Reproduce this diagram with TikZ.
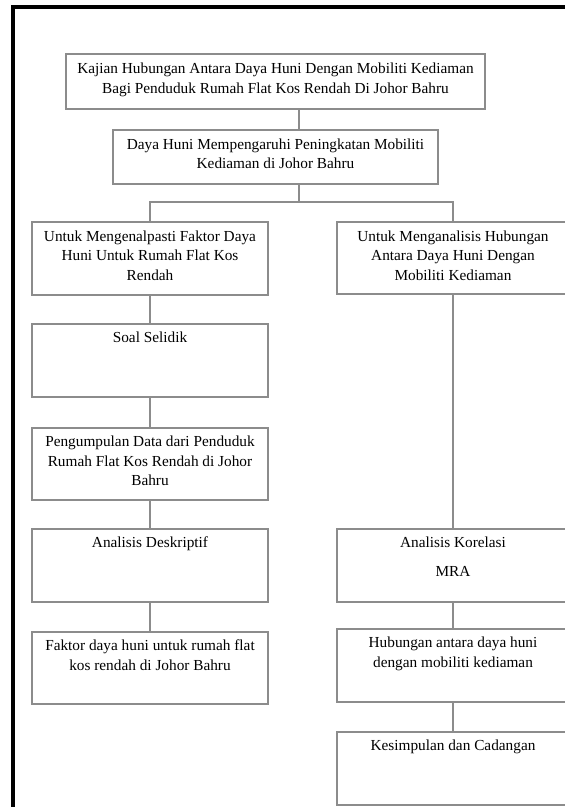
\documentclass[tikz,border=0pt]{standalone}
\usepackage{fontspec}
\setmainfont{Liberation Serif}
\usepackage{xcolor}
\usepackage{tikz}
\usetikzlibrary{calc}
\definecolor{garisabu}{RGB}{140,140,140}
\tikzset{
  kotak/.style  = {draw=garisabu, line width=1.1pt, rectangle, inner sep=0pt},
  kiri/.style   = {kotak, minimum width=236pt, minimum height=73pt},
  kanan/.style  = {kotak, minimum width=232pt, minimum height=73pt},
  teks/.style   = {anchor=north, inner sep=0pt, align=center,
                   font=\fontsize{15.3}{19.5}\selectfont},
  garis/.style  = {draw=garisabu, line width=1.1pt},
  bingkai/.style= {black, line width=3.5pt}
}

\begin{document}
\begin{tikzpicture}[x=1pt, y=-1pt]
  \useasboundingbox (0,0) rectangle (565,807);
  % bingkai luar
  \draw[bingkai] (13,812) -- (13,7) -- (570,7);
  \coordinate (tengah) at (299,0);
  \coordinate (simpang) at (299,202);
  % kotak atas
  \node[kotak, minimum width=419pt, minimum height=55pt] (b1) at (275.5,81.5) {};
  \node[teks] (t1) at ([yshift=-9.5pt]b1.north) {Kajian Hubungan Antara Daya Huni Dengan Mobiliti Kediaman\\Bagi Penduduk Rumah Flat Kos Rendah Di Johor Bahru};
  \node[kotak, minimum width=325pt, minimum height=54pt] (b2) at (275.5,157) {};
  \node[teks] (t2) at ([yshift=-9pt]b2.north) {Daya Huni Mempengaruhi Peningkatan Mobiliti\\Kediaman di Johor Bahru};
  % lajur kiri
  \node[kiri] (l1) at (150,258.5) {};
  \node[teks] (tl1) at ([yshift=-9pt]l1.north) {Untuk Mengenalpasti Faktor Daya\\Huni Untuk Rumah Flat Kos\\Rendah};
  \node[kiri] (l2) at (150,360.5) {};
  \node[teks] (tl2) at ([yshift=-8.5pt]l2.north) {Soal Selidik};
  \node[kiri, minimum height=72pt] (l3) at (150,464) {};
  \node[teks] (tl3) at ([yshift=-8.5pt]l3.north) {Pengumpulan Data dari Penduduk\\Rumah Flat Kos Rendah di Johor\\Bahru};
  \node[kiri] (l4) at (150,565.5) {};
  \node[teks] (tl4) at ([yshift=-8.5pt]l4.north) {Analisis Deskriptif};
  \node[kiri, minimum height=72pt] (l5) at (150,668) {};
  \node[teks] (tl5) at ([yshift=-8.5pt]l5.north) {Faktor daya huni untuk rumah flat\\kos rendah di Johor Bahru};
  % lajur kanan
  \node[kanan, minimum height=72pt] (r1) at (453,258) {};
  \node[teks] (tr1) at ([yshift=-9pt]r1.north) {Untuk Menganalisis Hubungan\\Antara Daya Huni Dengan\\Mobiliti Kediaman};
  \node[kanan] (r2) at (453,565.5) {};
  \node[teks] (tr2) at ([yshift=-8.5pt]r2.north) {Analisis Korelasi\\[9.5pt]MRA};
  \node[kanan] (r3) at (453,665.5) {};
  \node[teks] (tr3) at ([yshift=-8.5pt]r3.north) {Hubungan antara daya huni\\dengan mobiliti kediaman};
  \node[kanan] (r4) at (453,768.5) {};
  \node[teks] (tr4) at ([yshift=-8.5pt]r4.north) {Kesimpulan dan Cadangan};
  % garis penghubung
  \draw[garis] (b1.south -| tengah) -- (b2.north -| tengah);
  \draw[garis] (b2.south -| tengah) -- (simpang);
  \draw[garis] (l1.north) |- (simpang) -| (r1.north);
  \draw[garis] (l1.south) -- (l2.north);
  \draw[garis] (l2.south) -- (l3.north);
  \draw[garis] (l3.south) -- (l4.north);
  \draw[garis] (l4.south) -- (l5.north);
  \draw[garis] (r1.south) -- (r2.north);
  \draw[garis] (r2.south) -- (r3.north);
  \draw[garis] (r3.south) -- (r4.north);
\end{tikzpicture}
\end{document}
